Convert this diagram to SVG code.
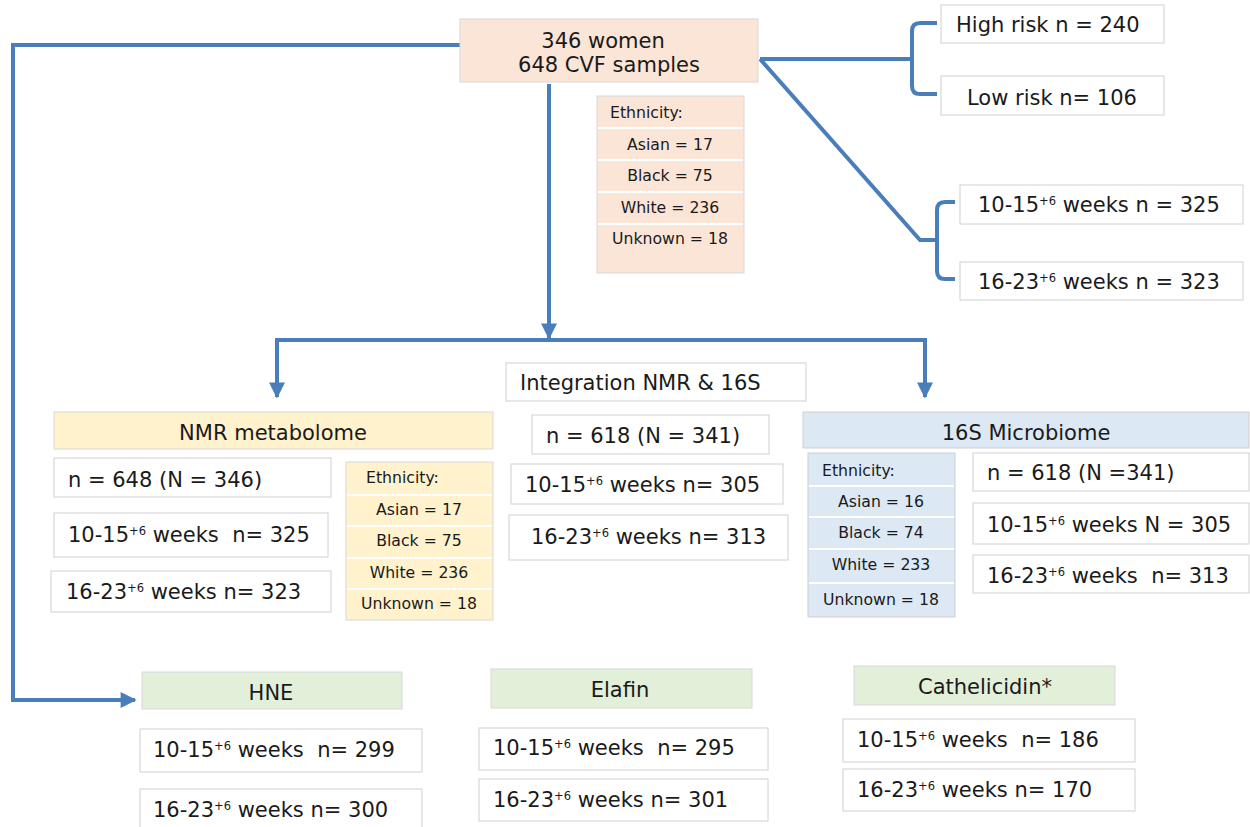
<svg xmlns="http://www.w3.org/2000/svg" width="1250" height="827" viewBox="0 0 1250 827">
<defs>
<style>
.t{font-family:"DejaVu Sans","Liberation Sans",sans-serif;font-size:21px;fill:#1a1a1a;white-space:pre}
.s{font-family:"DejaVu Sans","Liberation Sans",sans-serif;font-size:15.7px;fill:#1a1a1a}
.sup{font-size:11.5px}
.box{fill:#ffffff;stroke:#d0d0d0;stroke-width:1}
.peach{fill:#fbe5d6;stroke:#d8d8d8;stroke-width:1}
.yel{fill:#fff2cc;stroke:#d8d8d8;stroke-width:1}
.blue{fill:#dde8f5;stroke:#cfcfcf;stroke-width:1}
.green{fill:#e2efd9;stroke:#d8d8d8;stroke-width:1}
.sep{stroke:#ffffff;stroke-width:2}
.c{fill:none;stroke:#4a7ebb;stroke-width:4;stroke-linejoin:miter}
</style>
<marker id="ah" viewBox="0 0 10 10" refX="9" refY="5" markerWidth="18" markerHeight="16" markerUnits="userSpaceOnUse" orient="auto">
<path d="M0,0 L10,5 L0,10 Z" fill="#4a7ebb"/>
</marker>
</defs>

<g id="connectors">
<path class="c" d="M549,84 L549,338" marker-end="url(#ah)"/>
<path class="c" d="M600,340 L277,340 L277,397" marker-end="url(#ah)"/>
<path class="c" d="M600,340 L925,340 L925,397" marker-end="url(#ah)"/>
<path class="c" d="M460,45 L13,45 L13,700 L135,700" marker-end="url(#ah)"/>
<path class="c" d="M760,59 L912,59"/>
<path class="c" d="M937,23 L920,23 Q912,23 912,31 L912,86 Q912,94 920,94 L937,94"/>
<path class="c" d="M760,59 L920,240 L937,240"/>
<path class="c" d="M955,202 L945,202 Q937,202 937,210 L937,271 Q937,279 945,279 L955,279"/>
</g>

<g id="root">
<rect class="peach" x="460" y="19" width="298" height="63"/>
<text class="t" x="603" y="48" text-anchor="middle">346 women</text>
<text class="t" x="609" y="72" text-anchor="middle">648 CVF samples</text>
</g>

<g id="root-ethnicity">
<rect class="peach" x="597" y="96" width="147" height="177"/>
<line class="sep" x1="598" y1="128" x2="743" y2="128"/>
<line class="sep" x1="598" y1="160" x2="743" y2="160"/>
<line class="sep" x1="598" y1="192" x2="743" y2="192"/>
<line class="sep" x1="598" y1="224" x2="743" y2="224"/>
<text class="s" x="610" y="118">Ethnicity:</text>
<text class="s" x="670" y="150" text-anchor="middle">Asian = 17</text>
<text class="s" x="670" y="181" text-anchor="middle">Black = 75</text>
<text class="s" x="670" y="213" text-anchor="middle">White = 236</text>
<text class="s" x="670" y="244" text-anchor="middle">Unknown = 18</text>
</g>

<g id="high-risk">
<rect class="box" x="941" y="5" width="223" height="38"/>
<text class="t" x="956" y="32">High risk n = 240</text>
</g>
<g id="low-risk">
<rect class="box" x="941" y="76" width="223" height="39"/>
<text class="t" x="1052" y="105" text-anchor="middle">Low risk n= 106</text>
</g>
<g id="weeks-10-15">
<rect class="box" x="960" y="185" width="283" height="39"/>
<text class="t" x="978" y="212">10-15<tspan class="sup" dy="-7">+6</tspan><tspan dy="7"> weeks n = 325</tspan></text>
</g>
<g id="weeks-16-23">
<rect class="box" x="960" y="262" width="283" height="38"/>
<text class="t" x="978" y="289">16-23<tspan class="sup" dy="-7">+6</tspan><tspan dy="7"> weeks n = 323</tspan></text>
</g>

<g id="nmr">
<rect class="yel" x="54" y="412" width="439" height="37"/>
<text class="t" x="273" y="440" text-anchor="middle">NMR metabolome</text>
<rect class="box" x="54" y="458" width="277" height="39"/>
<text class="t" x="68" y="487">n = 648 (N = 346)</text>
<rect class="box" x="54" y="513" width="274" height="44"/>
<text class="t" x="68" y="542">10-15<tspan class="sup" dy="-7">+6</tspan><tspan dy="7"> weeks  n= 325</tspan></text>
<rect class="box" x="51" y="571" width="280" height="41"/>
<text class="t" x="66" y="599">16-23<tspan class="sup" dy="-7">+6</tspan><tspan dy="7"> weeks n= 323</tspan></text>
</g>

<g id="nmr-ethnicity">
<rect class="yel" x="346" y="462" width="147" height="158"/>
<line class="sep" x1="347" y1="495" x2="492" y2="495"/>
<line class="sep" x1="347" y1="526" x2="492" y2="526"/>
<line class="sep" x1="347" y1="558" x2="492" y2="558"/>
<line class="sep" x1="347" y1="589" x2="492" y2="589"/>
<text class="s" x="366" y="483">Ethnicity:</text>
<text class="s" x="419" y="515" text-anchor="middle">Asian = 17</text>
<text class="s" x="419" y="546" text-anchor="middle">Black = 75</text>
<text class="s" x="419" y="578" text-anchor="middle">White = 236</text>
<text class="s" x="419" y="609" text-anchor="middle">Unknown = 18</text>
</g>

<g id="integration">
<rect class="box" x="506" y="363" width="300" height="38"/>
<text class="t" x="520" y="390">Integration NMR &amp; 16S</text>
<rect class="box" x="532" y="415" width="237" height="39"/>
<text class="t" x="546" y="443">n = 618 (N = 341)</text>
<rect class="box" x="511" y="464" width="272" height="40"/>
<text class="t" x="525" y="492">10-15<tspan class="sup" dy="-7">+6</tspan><tspan dy="7"> weeks n= 305</tspan></text>
<rect class="box" x="509" y="515" width="279" height="45"/>
<text class="t" x="531" y="544">16-23<tspan class="sup" dy="-7">+6</tspan><tspan dy="7"> weeks n= 313</tspan></text>
</g>

<g id="microbiome">
<rect class="blue" x="803" y="412" width="446" height="36"/>
<text class="t" x="1026" y="440" text-anchor="middle">16S Microbiome</text>
<rect class="box" x="973" y="453" width="276" height="38"/>
<text class="t" x="987" y="480">n = 618 (N =341)</text>
<rect class="box" x="973" y="503" width="276" height="41"/>
<text class="t" x="987" y="532">10-15<tspan class="sup" dy="-7">+6</tspan><tspan dy="7"> weeks N = 305</tspan></text>
<rect class="box" x="973" y="555" width="276" height="38"/>
<text class="t" x="987" y="583">16-23<tspan class="sup" dy="-7">+6</tspan><tspan dy="7"> weeks  n= 313</tspan></text>
</g>

<g id="microbiome-ethnicity">
<rect class="blue" x="808" y="453" width="147" height="164"/>
<line class="sep" x1="809" y1="486" x2="954" y2="486"/>
<line class="sep" x1="809" y1="517" x2="954" y2="517"/>
<line class="sep" x1="809" y1="549" x2="954" y2="549"/>
<line class="sep" x1="809" y1="583" x2="954" y2="583"/>
<text class="s" x="822" y="476">Ethnicity:</text>
<text class="s" x="881" y="507" text-anchor="middle">Asian = 16</text>
<text class="s" x="881" y="538" text-anchor="middle">Black = 74</text>
<text class="s" x="881" y="570" text-anchor="middle">White = 233</text>
<text class="s" x="881" y="605" text-anchor="middle">Unknown = 18</text>
</g>

<g id="hne">
<rect class="green" x="142" y="672" width="260" height="37"/>
<text class="t" x="271" y="700" text-anchor="middle">HNE</text>
<rect class="box" x="140" y="729" width="282" height="43"/>
<text class="t" x="153" y="757">10-15<tspan class="sup" dy="-7">+6</tspan><tspan dy="7"> weeks  n= 299</tspan></text>
<rect class="box" x="140" y="789" width="282" height="42"/>
<text class="t" x="153" y="817">16-23<tspan class="sup" dy="-7">+6</tspan><tspan dy="7"> weeks n= 300</tspan></text>
</g>

<g id="elafin">
<rect class="green" x="491" y="669" width="261" height="39"/>
<text class="t" x="620" y="697" text-anchor="middle">Elafin</text>
<rect class="box" x="479" y="728" width="289" height="42"/>
<text class="t" x="493" y="755">10-15<tspan class="sup" dy="-7">+6</tspan><tspan dy="7"> weeks  n= 295</tspan></text>
<rect class="box" x="479" y="779" width="289" height="42"/>
<text class="t" x="493" y="807">16-23<tspan class="sup" dy="-7">+6</tspan><tspan dy="7"> weeks n= 301</tspan></text>
</g>

<g id="cathelicidin">
<rect class="green" x="854" y="666" width="261" height="39"/>
<text class="t" x="985" y="694" text-anchor="middle">Cathelicidin*</text>
<rect class="box" x="843" y="719" width="292" height="43"/>
<text class="t" x="857" y="747">10-15<tspan class="sup" dy="-7">+6</tspan><tspan dy="7"> weeks  n= 186</tspan></text>
<rect class="box" x="843" y="769" width="292" height="42"/>
<text class="t" x="857" y="797">16-23<tspan class="sup" dy="-7">+6</tspan><tspan dy="7"> weeks n= 170</tspan></text>
</g>
</svg>
